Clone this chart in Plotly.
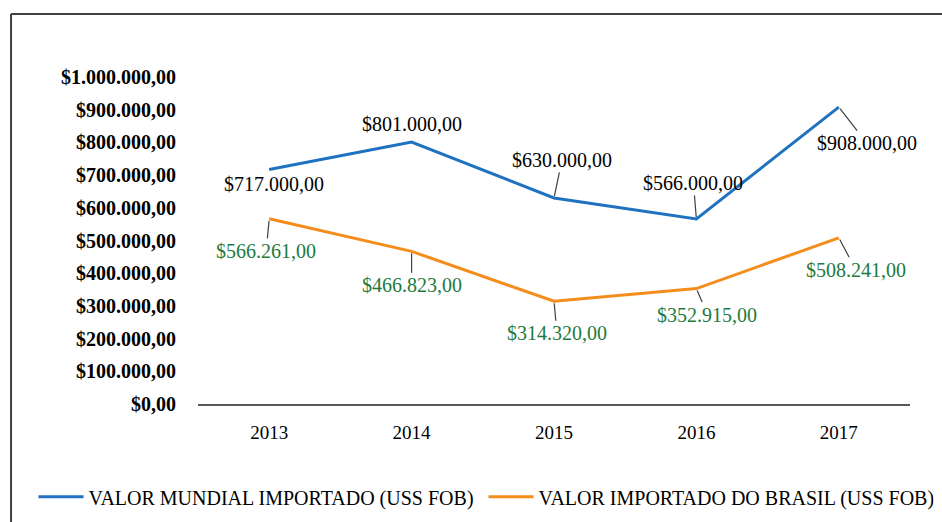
import plotly.graph_objects as go

years = [2013, 2014, 2015, 2016, 2017]
mundial = [717000, 801000, 630000, 566000, 908000]
brasil = [566261, 466823, 314320, 352915, 508241]
mundial_labels = ["$717.000,00", "$801.000,00", "$630.000,00", "$566.000,00", "$908.000,00"]
brasil_labels = ["$566.261,00", "$466.823,00", "$314.320,00", "$352.915,00", "$508.241,00"]
ytick_vals = [0, 100000, 200000, 300000, 400000, 500000, 600000, 700000, 800000, 900000, 1000000]
ytick_text = ["$0,00", "$100.000,00", "$200.000,00", "$300.000,00", "$400.000,00", "$500.000,00",
              "$600.000,00", "$700.000,00", "$800.000,00", "$900.000,00", "$1.000.000,00"]
name_mundial = "VALOR MUNDIAL IMPORTADO (USS FOB)"
name_brasil = "VALOR IMPORTADO DO BRASIL (USS FOB)"

BLUE = "#1f72bf"
ORANGE = "#f48d1c"
GREEN = "#1e7a3e"
FONT = "Liberation Serif"

fig = go.Figure()
fig.add_trace(go.Scatter(x=years, y=mundial, mode="lines", name=name_mundial,
                         line=dict(color=BLUE, width=3)))
fig.add_trace(go.Scatter(x=years, y=brasil, mode="lines", name=name_brasil,
                         line=dict(color=ORANGE, width=3)))

# label placements (pixel offsets): (show_arrow, ax/xshift, ay/yshift)
m_place = [(False, 5, -14), (False, 0, 18), (True, 8, -38), (True, -3, -36), (True, 28, 36)]
b_place = [(True, -3, 32), (True, 0, 34), (True, 3, 32), (True, 11, 26), (True, 17, 32)]

def add_labels(vals, labels, places, color):
    for yr, v, t, (arr, dx, dy) in zip(years, vals, labels, places):
        if arr:
            fig.add_annotation(x=yr, y=v, xref="x", yref="y", text=t, showarrow=True,
                               arrowhead=0, arrowwidth=1.2, arrowcolor="#404040",
                               ax=dx, ay=dy, standoff=2,
                               font=dict(family=FONT, size=20, color=color))
        else:
            fig.add_annotation(x=yr, y=v, xref="x", yref="y", text=t, showarrow=False,
                               xshift=dx, yshift=dy,
                               font=dict(family=FONT, size=20, color=color))

add_labels(mundial, mundial_labels, m_place, "#000000")
add_labels(brasil, brasil_labels, b_place, GREEN)

# outer frame (top and left edges)
fig.add_shape(type="line", xref="paper", yref="paper", x0=-0.2626, x1=1.06, y0=1.1927, y1=1.1927,
              line=dict(color="#404040", width=2))
fig.add_shape(type="line", xref="paper", yref="paper", x0=-0.2626, x1=-0.2626, y0=1.1927, y1=-0.37,
              line=dict(color="#404040", width=2))

fig.update_layout(
    width=942, height=522,
    margin=dict(l=198, r=32, t=77, b=118, autoexpand=False),
    paper_bgcolor="white", plot_bgcolor="white",
    font=dict(family=FONT, size=20, color="#000000"),
    showlegend=True,
    legend=dict(orientation="h", x=-0.231, xanchor="left", y=-0.284, yanchor="middle",
                font=dict(family=FONT, size=20, color="#000000"), entrywidth=390,
                itemwidth=45, bgcolor="rgba(0,0,0,0)"),
    xaxis=dict(range=[2012.5, 2017.5], tickvals=years, showgrid=False, zeroline=False,
               showline=True, linecolor="#595959", linewidth=1.5,
               ticks="outside", ticklen=10, tickcolor="rgba(0,0,0,0)",
               tickfont=dict(family=FONT, size=19, color="#000000")),
    yaxis=dict(range=[0, 1000000], tickvals=ytick_vals, ticktext=ytick_text,
               showgrid=False, zeroline=False, showline=False,
               ticks="outside", ticklen=17, tickcolor="rgba(0,0,0,0)",
               tickfont=dict(family=FONT, size=20, color="#000000", weight="bold")),
)

fig.write_html("out.html", config={"displayModeBar": False},
               post_script="document.body.style.margin='0';")
